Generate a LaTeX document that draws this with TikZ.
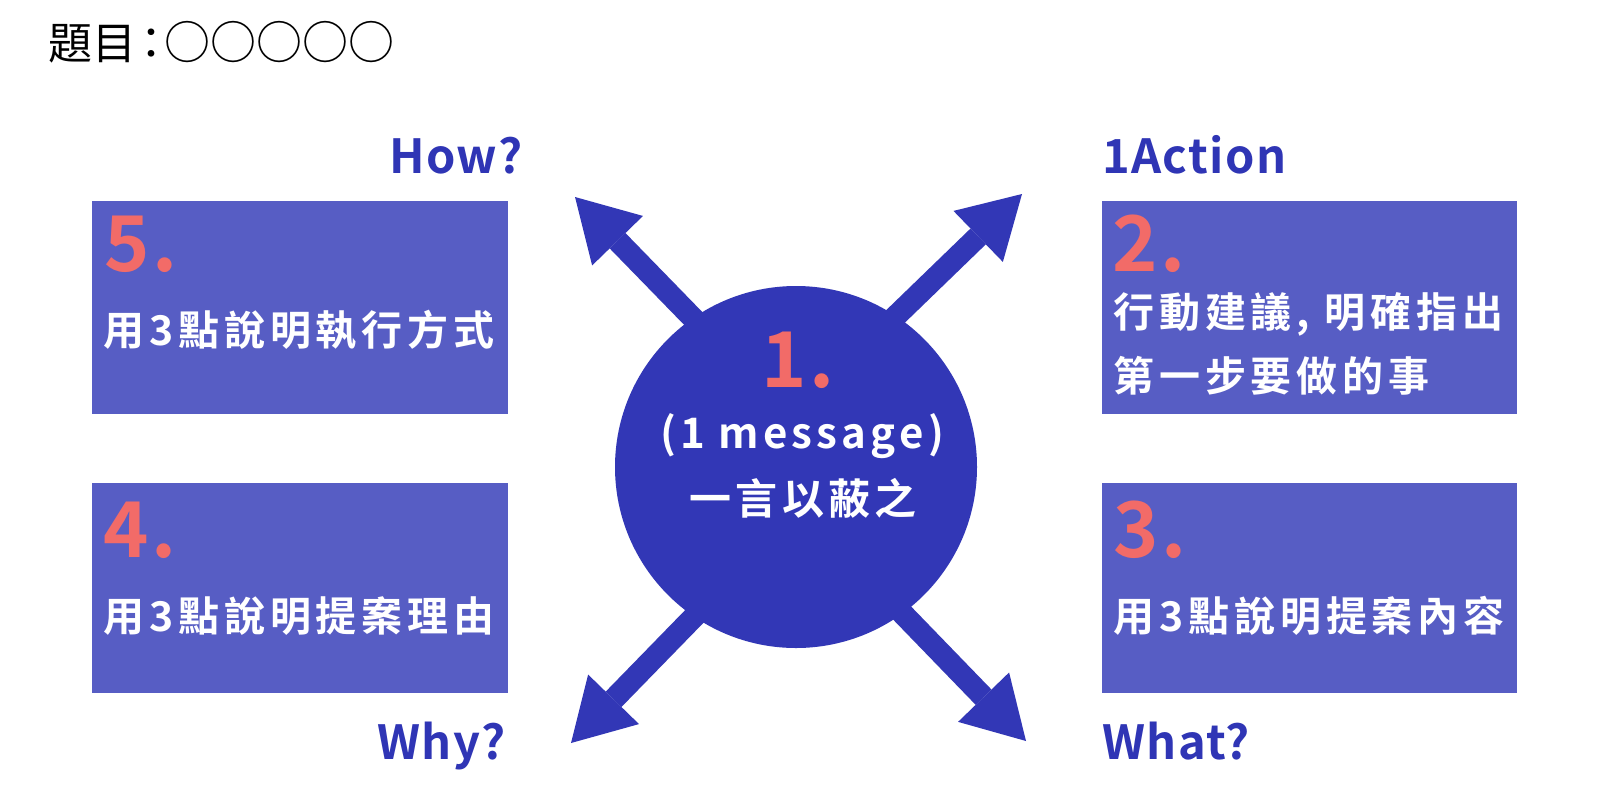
\documentclass[tikz,border=0pt]{standalone}
\usepackage{fontspec}
\setmainfont{Noto Sans CJK TC}
\newfontfamily\bx{Noto Sans CJK TC Bold}
\usetikzlibrary{arrows.meta}
\definecolor{boxfill}{HTML}{575DC4}
\definecolor{circfill}{HTML}{3237B6}
\definecolor{numred}{HTML}{F26B68}
\definecolor{lblblue}{HTML}{2F35B5}
\tikzset{
  numbox/.style={fill=boxfill, draw=none, minimum width=416pt, minimum height=213pt, inner sep=0pt, anchor=north west},
  bignum/.style={text=numred, font=\bx\addfontfeature{LetterSpace=4}\fontsize{77}{77}\selectfont, anchor=base west, inner sep=0pt},
  boxtxt/.style={text=white, font=\bx\addfontfeature{LetterSpace=12}\fontsize{41}{64}\selectfont, anchor=base west, inner sep=0pt, align=left},
  msgtxt/.style={text=white, font=\bx\addfontfeature{LetterSpace=10}\fontsize{42}{50}\selectfont, anchor=base, inner sep=0pt},
  lbl/.style={text=lblblue, font=\bx\addfontfeature{LetterSpace=3}\fontsize{47}{47}\selectfont, anchor=base west, inner sep=0pt},
  titletxt/.style={text=black, font=\fontsize{44}{44}\selectfont, anchor=base west, inner sep=0pt},
  bigarrow/.style={draw=circfill, line width=22pt, -{Triangle[length=61pt, width=71pt, line width=0pt]}},
}
\begin{document}
\begin{tikzpicture}[x=1pt,y=-1pt]
\useasboundingbox (0,0) rectangle (1600,788);
\fill[white] (0,0) rectangle (1600,788);

\node[titletxt] (title) at (48,59) {題目\hspace{-7pt}：\hspace{-9pt}{\fontsize{46}{46}\selectfont ○○○○○}};

\coordinate (tlA) at (722,348); \coordinate (tlB) at (575,197);
\coordinate (trA) at (866,345); \coordinate (trB) at (1022,194);
\coordinate (blA) at (722,588); \coordinate (blB) at (571,743);
\coordinate (brA) at (874,584); \coordinate (brB) at (1026,741);
\draw[bigarrow] (tlA) -- (tlB);
\draw[bigarrow] (trA) -- (trB);
\draw[bigarrow] (blA) -- (blB);
\draw[bigarrow] (brA) -- (brB);

\node[circle, fill=circfill, minimum size=362pt, inner sep=0pt] (core) at (796,467) {};

\node[numbox] (b5) at (92,201) {};
\node[numbox, minimum width=415pt] (b2) at (1102,201) {};
\node[numbox, minimum height=210pt] (b4) at (92,483) {};
\node[numbox, minimum width=415pt, minimum height=210pt] (b3) at (1102,483) {};

\node[bignum] (n5) at (104,271) {5.};
\node[boxtxt] (t5) at (103,345) {用3點說明執行方式};
\node[bignum] (n2) at (1112,271) {2.};
\node[boxtxt] (t2) at (1113,391) {行動建議, 明確指出\\第一步要做的事};
\node[bignum] (n4) at (103,557) {4.};
\node[boxtxt] (t4) at (103,631) {用3點說明提案理由};
\node[bignum] (n3) at (1113,557) {3.};
\node[boxtxt] (t3) at (1113,631) {用3點說明提案內容};

\node[lbl] (how) at (389,173) {How?};
\node[lbl] (act) at (1102,173) {1Action};
\node[lbl] (why) at (377,759) {Why?};
\node[lbl] (what) at (1102,759) {What?};

\node[bignum, anchor=base] (n1) at (798,387) {1.};
\node[msgtxt] (m1) at (802,448) {(1 message)};
\node[msgtxt] (m2) at (803,514) {一言以蔽之};
\end{tikzpicture}
\end{document}
